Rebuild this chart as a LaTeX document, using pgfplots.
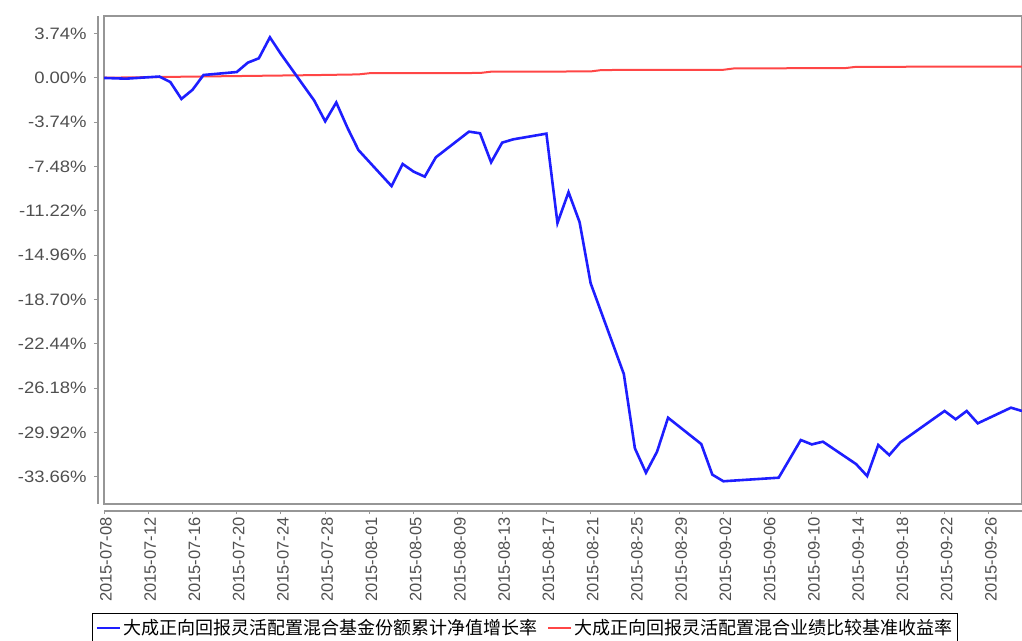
\documentclass[border=0pt]{standalone}
\usepackage{fontspec}
\setmainfont{Liberation Sans}
\newfontfamily\cjk{Noto Sans CJK SC}
\usepackage{pgfplots}
\pgfplotsset{compat=1.18}
\usepackage{pgfplotstable}

\definecolor{fundblue}{RGB}{30,30,255}
\definecolor{benchred}{RGB}{255,70,70}
\definecolor{ticktext}{RGB}{80,80,80}
\definecolor{axisgray}{RGB}{150,150,150}

% day 0 = 2015-07-08
\pgfplotstableread{
day value
0 0.00
1 -0.03
2 -0.06
5 0.12
6 -0.35
7 -1.77
8 -1.00
9 0.25
12 0.50
13 1.29
14 1.66
15 3.43
16 2.02
19 -1.90
20 -3.66
21 -2.07
22 -4.18
23 -6.08
26 -9.13
27 -7.26
28 -7.91
29 -8.33
30 -6.70
33 -4.53
34 -4.67
35 -7.12
36 -5.46
37 -5.18
40 -4.70
41 -12.24
42 -9.64
43 -12.17
44 -17.33
47 -24.99
48 -31.26
49 -33.32
50 -31.55
51 -28.68
54 -30.90
55 -33.48
56 -34.04
61 -33.74
62 -32.15
63 -30.56
64 -30.93
65 -30.70
68 -32.59
69 -33.60
70 -30.98
71 -31.83
72 -30.76
75 -28.77
76 -28.11
77 -28.81
78 -28.11
79 -29.15
82 -27.83
83 -28.11
}\fund

\pgfplotstableread{
day value
0 0.02
5 0.08
12 0.16
19 0.24
23 0.30
24 0.40
34 0.42
35 0.53
44 0.55
45 0.67
56 0.69
57 0.81
67 0.83
68 0.94
83 0.96
}\bench

\begin{document}
\begin{tikzpicture}[x=1pt,y=1pt]
\useasboundingbox (0,0) rectangle (1022,640);
% main plot area with box
\begin{axis}[
  at={(104pt,136pt)}, anchor=south west,
  scale only axis, width=918pt, height=488pt,
  xmin=0, xmax=83, ymin=-35.96, ymax=5.23,
  xtick=\empty, ytick=\empty,
  axis line style={draw=axisgray, line width=1.3pt},
  clip=true,
  legend columns=2,
  legend style={at={(axis description cs:-0.0131,-0.2234)}, anchor=north west,
    draw=black, line width=1.2pt, font=\cjk\fontsize{18}{20}\selectfont,
    inner xsep=3pt, inner ysep=4pt,
    /tikz/every even column/.append style={column sep=8pt}},
  legend image code/.code={\draw[#1] (0pt,0pt) -- (23pt,0pt);},
]
\addplot[benchred, line width=2pt, forget plot] table[x=day, y=value] {\bench};
\addplot[fundblue, line width=2.6pt] table[x=day, y=value] {\fund};
\addlegendentry{大成正向回报灵活配置混合基金份额累计净值增长率}
\addlegendimage{benchred, line width=2pt}
\addlegendentry{大成正向回报灵活配置混合业绩比较基准收益率}
\end{axis}
% detached y axis
\begin{axis}[
  at={(98pt,136pt)}, anchor=south west,
  scale only axis, width=918pt, height=488pt,
  xmin=0, xmax=83, ymin=-35.96, ymax=5.23,
  axis x line=none, axis y line*=left,
  axis line style={draw=axisgray, line width=1.2pt},
  ytick={-33.66,-29.92,-26.18,-22.44,-18.70,-14.96,-11.22,-7.48,-3.74,0,3.74},
  yticklabels={-33.66\%,-29.92\%,-26.18\%,-22.44\%,-18.70\%,-14.96\%,-11.22\%,-7.48\%,-3.74\%,0.00\%,3.74\%},
  tick align=outside, major tick length=4pt,
  tick style={draw=axisgray, line width=1pt},
  yticklabel style={font=\fontsize{16.5}{18}\selectfont, text=ticktext, xscale=1.12, xshift=-3pt},
]
\end{axis}
% detached x axis
\begin{axis}[
  at={(104pt,129pt)}, anchor=south west,
  scale only axis, width=918pt, height=488pt,
  xmin=0, xmax=83, ymin=-35.96, ymax=5.23,
  axis y line=none, axis x line*=bottom,
  axis line style={draw=axisgray, line width=1.2pt},
  xtick={0,4,...,80},
  xticklabels={2015-07-08,2015-07-12,2015-07-16,2015-07-20,2015-07-24,2015-07-28,2015-08-01,2015-08-05,2015-08-09,2015-08-13,2015-08-17,2015-08-21,2015-08-25,2015-08-29,2015-09-02,2015-09-06,2015-09-10,2015-09-14,2015-09-18,2015-09-22,2015-09-26},
  tick align=outside, major tick length=3pt,
  tick style={draw=axisgray, line width=1pt},
  xticklabel style={font=\fontsize{16.5}{18}\selectfont, text=ticktext, rotate=90, anchor=east, yshift=-2pt},
]
\end{axis}
\end{tikzpicture}
\end{document}
